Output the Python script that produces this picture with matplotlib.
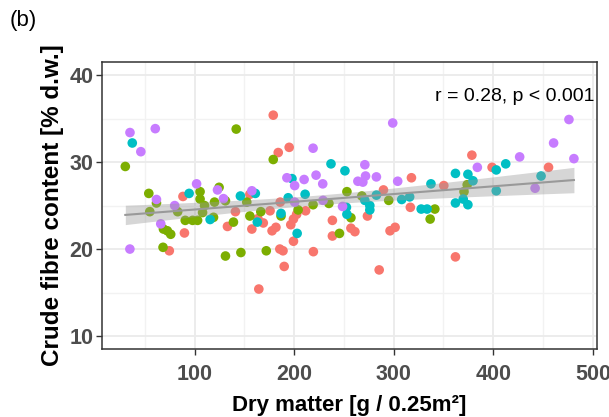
import matplotlib
matplotlib.use("Agg")
import matplotlib.pyplot as plt
import numpy as np

plt.rcParams['font.family'] = ['Liberation Sans', 'DejaVu Sans']

# four sampling groups (ggplot default hues)
red_x = [74.6, 88.3, 89.8, 133, 141, 155.5, 157.5, 163.6, 164.5, 169, 175.8, 179, 177.8, 181.7,
         184, 185.6, 188.8, 190, 186, 195, 196.6, 199.3, 199.3, 202.5, 211.5, 219.3, 238.4, 238.4,
         257, 261, 273.6, 285.4, 289.7, 296.3, 301.4, 316.7, 317.8, 350.3, 362, 378.5, 398.8, 455.5]
red_y = [19.8, 26.05, 21.85, 22.6, 24.3, 26.3, 22.3, 23.5, 15.4, 23.0, 24.4, 35.4, 22.1, 22.5,
         31.1, 20.0, 19.8, 18.0, 25.4, 31.7, 22.8, 23.45, 20.9, 24.0, 24.4, 19.7, 23.3, 21.5,
         22.4, 22.0, 23.8, 17.6, 26.8, 22.1, 22.5, 24.8, 28.2, 27.3, 19.1, 30.8, 29.4, 29.4]

green_x = [30.4, 54, 55, 61.7, 68.7, 68.3, 72.6, 76, 83, 90.6, 98, 103, 105.5, 105.5, 108, 110,
           119, 120, 124.6, 131, 131, 139, 141.8, 146.5, 152.4, 155.5, 166.5, 172, 179, 186.8,
           204, 219, 234.9, 245.5, 253, 257, 268, 295, 336.6, 341.3, 370.6, 373.8]
green_y = [29.5, 26.4, 24.3, 25.3, 22.3, 20.2, 22.1, 21.7, 24.3, 23.3, 23.3, 23.3, 26.6, 25.75,
           24.2, 25.0, 23.65, 25.4, 27.1, 19.2, 25.55, 23.1, 33.8, 19.6, 25.4, 23.8, 24.3, 19.8,
           30.3, 23.8, 24.5, 25.1, 25.25, 21.8, 26.6, 23.6, 26.1, 25.6, 23.45, 24.6, 26.6, 27.4]

cyan_x = [37.4, 94.5, 115.6, 146, 161, 163, 186.8, 197.8, 203, 194, 211, 237, 251, 252.5, 253,
          271, 276, 276, 282.6, 308, 316, 327.6, 333.5, 337.4, 362, 362, 369.8, 374.5, 374.5,
          379.6, 403, 403, 412.5, 448]
cyan_y = [32.2, 26.4, 23.4, 26.1, 26.4, 23.1, 24.1, 28.1, 21.8, 25.9, 26.3, 29.8, 29.0, 24.8, 24.0,
          25.6, 25.0, 24.5, 26.2, 25.7, 26.0, 24.6, 24.6, 27.5, 28.7, 25.3, 25.75, 28.6, 25.1,
          27.85, 29.1, 26.7, 29.8, 28.4]

purple_x = [35.1, 35, 60.5, 46, 61.7, 66, 80, 102, 123, 129, 157.5, 192.7, 200.5, 210, 219, 222,
            228.7, 229, 248.6, 271, 271.7, 264, 269, 282.6, 299, 304, 384, 426.5, 442, 460.6,
            476, 481, 200.5]
purple_y = [33.4, 20.0, 33.85, 31.2, 25.7, 22.9, 25.0, 27.5, 26.8, 25.8, 26.7, 28.2, 27.3, 28.0,
            31.6, 28.5, 27.5, 25.6, 24.9, 29.7, 28.4, 27.8, 27.7, 28.3, 34.5, 27.8, 29.4, 30.6,
            27.0, 32.2, 34.9, 30.4, 25.4]

fig = plt.figure(figsize=(6.09, 4.17), dpi=100)
ax = fig.add_axes([0.1675, 0.163, 0.8125, 0.688])

for xs, ys, c in [(red_x, red_y, '#F8766D'), (green_x, green_y, '#7CAE00'),
                  (cyan_x, cyan_y, '#00BFC4'), (purple_x, purple_y, '#C77CFF')]:
    ax.scatter(xs, ys, s=48, color=c, edgecolors='none', zorder=3)

# linear fit with 95% band
allx = np.array(red_x + green_x + cyan_x + purple_x)
ally = np.array(red_y + green_y + cyan_y + purple_y)
b, a = np.polyfit(allx, ally, 1)
n = len(allx)
resid = ally - (a + b * allx)
s = np.sqrt(np.sum(resid ** 2) / (n - 2))
xx = np.linspace(allx.min(), allx.max(), 80)
yy = a + b * xx
se = s * np.sqrt(1 / n + (xx - allx.mean()) ** 2 / np.sum((allx - allx.mean()) ** 2))
ax.fill_between(xx, yy - 1.976 * se, yy + 1.976 * se, color='#999999', alpha=0.4,
                linewidth=0, zorder=4)
ax.plot(xx, yy, color='#999999', lw=1.5, zorder=5)

ax.set_xlim(7, 504)
ax.set_ylim(8.5, 41.5)
ax.set_xticks([100, 200, 300, 400, 500])
ax.set_yticks([10, 20, 30, 40])
ax.set_xticks([50, 150, 250, 350, 450], minor=True)
ax.set_yticks([15, 25, 35], minor=True)
ax.grid(True, which='major', color='#EBEBEB', lw=1.3, zorder=0)
ax.grid(True, which='minor', color='#F2F2F2', lw=1.0, zorder=0)
ax.set_axisbelow(True)
ax.tick_params(which='minor', length=0)
ax.tick_params(which='major', length=4, width=1, color='#333333', labelsize=15.5,
               labelcolor='#4D4D4D', pad=2)
ax.tick_params(axis='x', pad=7)
for lab in ax.get_xticklabels() + ax.get_yticklabels():
    lab.set_fontweight('bold')
for sp in ax.spines.values():
    sp.set_color('#333333')
    sp.set_linewidth(1.1)

ax.set_xlabel('Dry matter [g / 0.25m²]', fontsize=16, fontweight='bold', labelpad=7)
ax.set_ylabel('Crude fibre content [% d.w.]', fontsize=17.5, fontweight='bold', labelpad=4)

ax.text(0.996, 0.88, 'r = 0.28, p < 0.001', transform=ax.transAxes, ha='right', va='center',
        fontsize=14)
fig.text(0.016, 0.95, '(b)', fontsize=16, ha='left', va='center')

fig.savefig('out.png', dpi=100)
